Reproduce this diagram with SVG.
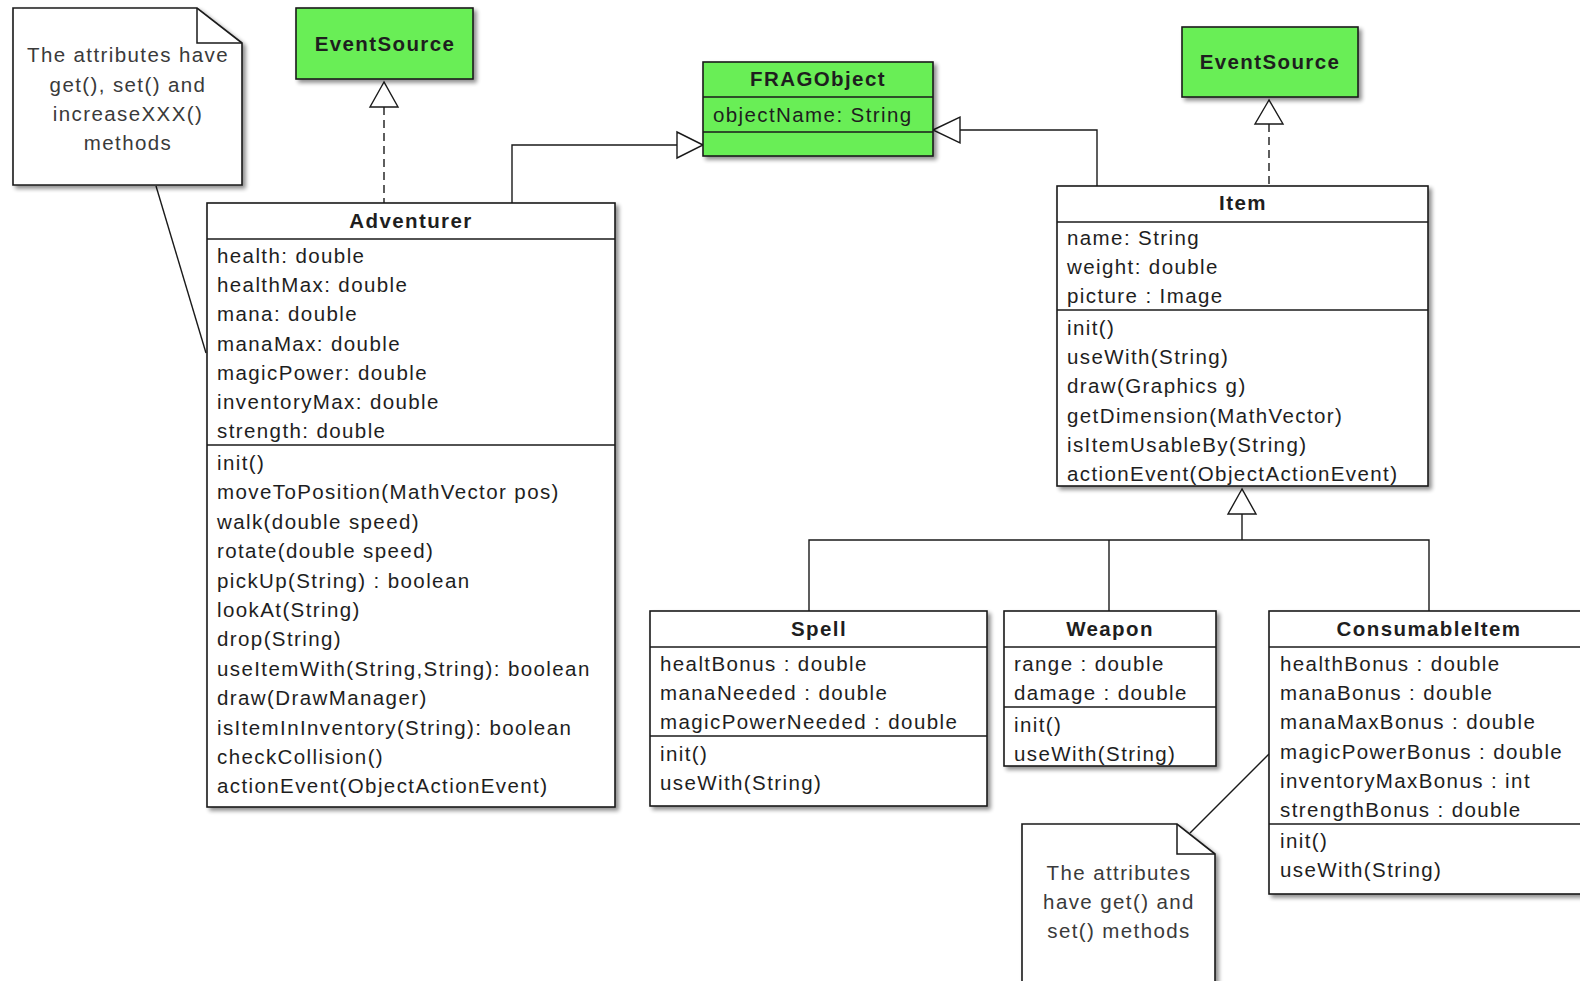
<svg xmlns="http://www.w3.org/2000/svg" width="1580" height="981" viewBox="0 0 1580 981">
<defs>
<filter id="sh" x="-10%" y="-10%" width="130%" height="130%">
<feGaussianBlur in="SourceAlpha" stdDeviation="2"/>
<feOffset dx="3" dy="3" result="b"/>
<feComponentTransfer><feFuncA type="linear" slope="0.45"/></feComponentTransfer>
<feMerge><feMergeNode/><feMergeNode in="SourceGraphic"/></feMerge>
</filter>
</defs>
<style>
.box{fill:#fff;stroke:#1a1a1a;stroke-width:1.6}
.green{fill:#69ee57;stroke:#1a1a1a;stroke-width:1.6}
.sep{stroke:#1a1a1a;stroke-width:1.5;fill:none}
.t{font-family:"Liberation Sans",Arial,sans-serif;font-size:20.5px;letter-spacing:1.4px;fill:#1e1e1e}
.b{font-weight:bold;text-anchor:middle}
.n{font-family:"Liberation Sans",Arial,sans-serif;font-size:20.5px;letter-spacing:1.4px;fill:#3a3a3a;text-anchor:middle}
.ln{stroke:#1a1a1a;stroke-width:1.4;fill:none}
.dash{stroke:#1a1a1a;stroke-width:1.4;fill:none;stroke-dasharray:8 5}
.tri{fill:#fff;stroke:#1a1a1a;stroke-width:1.4}
</style>
<rect x="0" y="0" width="1580" height="981" fill="#fff"/>

<g id="connectors">
<line class="ln" x1="156" y1="186" x2="206" y2="353"/>
<line class="ln" x1="1269" y1="754" x2="1190" y2="833"/>
<line class="dash" x1="384" y1="107" x2="384" y2="203"/>
<polygon class="tri" points="384,82 370,107 398,107"/>
<line class="dash" x1="1269" y1="124" x2="1269" y2="186"/>
<polygon class="tri" points="1269,100 1255,124 1283,124"/>
<polyline class="ln" points="512,203 512,145 677,145"/>
<polygon class="tri" points="703,145 677,132 677,158"/>
<polyline class="ln" points="1097,186 1097,130 960,130"/>
<polygon class="tri" points="933,130 960,117 960,143"/>
<line class="ln" x1="1242" y1="514" x2="1242" y2="540"/>
<polygon class="tri" points="1242,489 1228,514 1256,514"/>
<polyline class="ln" points="809,611 809,540 1429,540 1429,611"/>
<line class="ln" x1="1109" y1="540" x2="1109" y2="611"/>
</g>

<g id="note1">
<path class="box" filter="url(#sh)" d="M13,8 L197,8 L242,43 L242,185 L13,185 Z"/>
<path class="sep" d="M197,8 L197,43 L242,43"/>
<text class="n" x="128" y="62">The attributes have</text>
<text class="n" x="128" y="92">get(), set() and</text>
<text class="n" x="128" y="121">increaseXXX()</text>
<text class="n" x="128" y="150">methods</text>
</g>

<g id="eventsource1">
<rect class="green" filter="url(#sh)" x="296" y="8" width="177" height="71"/>
<text class="t b" x="385" y="51">EventSource</text>
</g>

<g id="eventsource2">
<rect class="green" filter="url(#sh)" x="1182" y="27" width="176" height="70"/>
<text class="t b" x="1270" y="69">EventSource</text>
</g>

<g id="fragobject">
<rect class="green" filter="url(#sh)" x="703" y="62" width="230" height="94"/>
<line class="sep" x1="703" y1="97" x2="933" y2="97"/>
<line class="sep" x1="703" y1="132" x2="933" y2="132"/>
<text class="t b" x="818" y="86">FRAGObject</text>
<text class="t" x="713" y="122">objectName: String</text>
</g>

<g id="adventurer">
<rect class="box" filter="url(#sh)" x="207" y="203" width="408" height="604"/>
<line class="sep" x1="207" y1="239" x2="615" y2="239"/>
<line class="sep" x1="207" y1="445" x2="615" y2="445"/>
<text class="t b" x="411" y="228">Adventurer</text>
<text class="t" x="217" y="263">health: double</text>
<text class="t" x="217" y="292">healthMax: double</text>
<text class="t" x="217" y="321">mana: double</text>
<text class="t" x="217" y="351">manaMax: double</text>
<text class="t" x="217" y="380">magicPower: double</text>
<text class="t" x="217" y="409">inventoryMax: double</text>
<text class="t" x="217" y="438">strength: double</text>
<text class="t" x="217" y="470">init()</text>
<text class="t" x="217" y="499">moveToPosition(MathVector pos)</text>
<text class="t" x="217" y="529">walk(double speed)</text>
<text class="t" x="217" y="558">rotate(double speed)</text>
<text class="t" x="217" y="588">pickUp(String) : boolean</text>
<text class="t" x="217" y="617">lookAt(String)</text>
<text class="t" x="217" y="646">drop(String)</text>
<text class="t" x="217" y="676">useItemWith(String,String): boolean</text>
<text class="t" x="217" y="705">draw(DrawManager)</text>
<text class="t" x="217" y="735">isItemInInventory(String): boolean</text>
<text class="t" x="217" y="764">checkCollision()</text>
<text class="t" x="217" y="793">actionEvent(ObjectActionEvent)</text>
</g>

<g id="item">
<rect class="box" filter="url(#sh)" x="1057" y="186" width="371" height="300"/>
<line class="sep" x1="1057" y1="222" x2="1428" y2="222"/>
<line class="sep" x1="1057" y1="310" x2="1428" y2="310"/>
<text class="t b" x="1243" y="210">Item</text>
<text class="t" x="1067" y="245">name: String</text>
<text class="t" x="1067" y="274">weight: double</text>
<text class="t" x="1067" y="303">picture : Image</text>
<text class="t" x="1067" y="335">init()</text>
<text class="t" x="1067" y="364">useWith(String)</text>
<text class="t" x="1067" y="393">draw(Graphics g)</text>
<text class="t" x="1067" y="423">getDimension(MathVector)</text>
<text class="t" x="1067" y="452">isItemUsableBy(String)</text>
<text class="t" x="1067" y="481">actionEvent(ObjectActionEvent)</text>
</g>

<g id="spell">
<rect class="box" filter="url(#sh)" x="650" y="611" width="337" height="195"/>
<line class="sep" x1="650" y1="647" x2="987" y2="647"/>
<line class="sep" x1="650" y1="736" x2="987" y2="736"/>
<text class="t b" x="819" y="636">Spell</text>
<text class="t" x="660" y="671">healtBonus : double</text>
<text class="t" x="660" y="700">manaNeeded : double</text>
<text class="t" x="660" y="729">magicPowerNeeded : double</text>
<text class="t" x="660" y="761">init()</text>
<text class="t" x="660" y="790">useWith(String)</text>
</g>

<g id="weapon">
<rect class="box" filter="url(#sh)" x="1004" y="611" width="212" height="155"/>
<line class="sep" x1="1004" y1="647" x2="1216" y2="647"/>
<line class="sep" x1="1004" y1="707" x2="1216" y2="707"/>
<text class="t b" x="1110" y="636">Weapon</text>
<text class="t" x="1014" y="671">range : double</text>
<text class="t" x="1014" y="700">damage : double</text>
<text class="t" x="1014" y="732">init()</text>
<text class="t" x="1014" y="761">useWith(String)</text>
</g>

<g id="consumableitem">
<rect class="box" filter="url(#sh)" x="1269" y="611" width="330" height="283"/>
<line class="sep" x1="1269" y1="647" x2="1599" y2="647"/>
<line class="sep" x1="1269" y1="824" x2="1599" y2="824"/>
<text class="t b" x="1429" y="636">ConsumableItem</text>
<text class="t" x="1280" y="671">healthBonus : double</text>
<text class="t" x="1280" y="700">manaBonus : double</text>
<text class="t" x="1280" y="729">manaMaxBonus : double</text>
<text class="t" x="1280" y="759">magicPowerBonus : double</text>
<text class="t" x="1280" y="788">inventoryMaxBonus : int</text>
<text class="t" x="1280" y="817">strengthBonus : double</text>
<text class="t" x="1280" y="848">init()</text>
<text class="t" x="1280" y="877">useWith(String)</text>
</g>

<g id="note2">
<path class="box" filter="url(#sh)" d="M1022,824 L1177,824 L1215,854 L1215,995 L1022,995 Z"/>
<path class="sep" d="M1177,824 L1177,854 L1215,854"/>
<text class="n" x="1119" y="880">The attributes</text>
<text class="n" x="1119" y="909">have get() and</text>
<text class="n" x="1119" y="938">set() methods</text>
</g>
</svg>
